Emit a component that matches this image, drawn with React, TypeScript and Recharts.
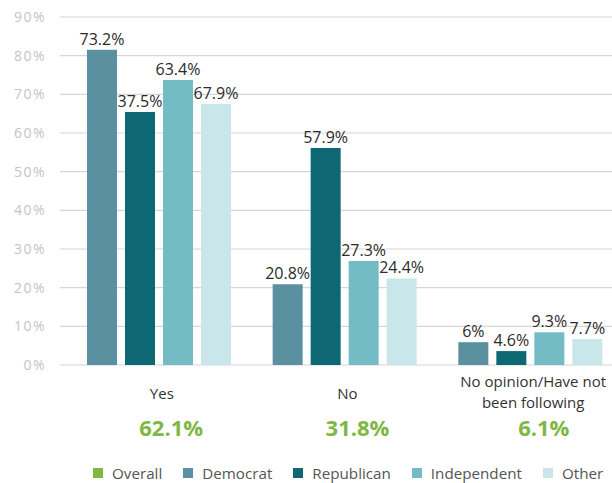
import React from "react";
import { BarChart, Bar, XAxis, YAxis, CartesianGrid, LabelList, Legend } from "recharts";

const categories = ["Yes", "No", "No opinion/Have not\nbeen following"];
const overallLabels = ["62.1%", "31.8%", "6.1%"];

const democratValues = [81.5, 20.9, 5.9];
const republicanValues = [65.4, 56.1, 3.6];
const independentValues = [73.7, 26.9, 8.5];
const otherValues = [67.5, 22.4, 6.7];

// printed value labels
const democratLabels = [73.2, 20.8, 6];
const republicanLabels = [37.5, 57.9, 4.6];
const independentLabels = [63.4, 27.3, 9.3];
const otherLabels = [67.9, 24.4, 7.7];

const yTicks = [0, 10, 20, 30, 40, 50, 60, 70, 80, 90];
const legendNames = ["Overall", "Democrat", "Republican", "Independent", "Other"];

const GREEN = "#7db843";
const COLORS: Record<string, string> = {
  Overall: GREEN,
  Democrat: "#5a90a0",
  Republican: "#0e6873",
  Independent: "#74bcc5",
  Other: "#c9e6ea",
};

const FONT = "'Open Sans', sans-serif";

const data = categories.map((cat, i) => ({
  cat,
  overall: overallLabels[i],
  democrat: democratValues[i],
  republican: republicanValues[i],
  independent: independentValues[i],
  other: otherValues[i],
  democratLabel: democratLabels[i],
  republicanLabel: republicanLabels[i],
  independentLabel: independentLabels[i],
  otherLabel: otherLabels[i],
}));

const series = [
  { key: "democrat", name: "Democrat" },
  { key: "republican", name: "Republican" },
  { key: "independent", name: "Independent" },
  { key: "other", name: "Other" },
];

const CategoryTick = (props: any) => {
  const { x, y, payload } = props;
  const lines = String(payload.value).split("\n");
  const first = lines.length === 1 ? 34 : 22;
  return (
    <text x={x} y={y} textAnchor="middle" fill="#333" fontSize={15} fontFamily={FONT}>
      {lines.map((l, i) => (
        <tspan key={i} x={x} y={y + first + i * 21}>{l}</tspan>
      ))}
    </text>
  );
};

const OverallTick = (props: any) => {
  const { x, y, payload } = props;
  return (
    <text x={x} y={y + 21} textAnchor="middle" fill={GREEN} fontSize={22} fontWeight={700} fontFamily={FONT}>
      {payload.value}
    </text>
  );
};

const renderLegend = () => (
  <div
    style={{
      display: "flex",
      alignItems: "center",
      height: 33,
      paddingLeft: 93,
      paddingTop: 13,
      boxSizing: "border-box",
      fontFamily: FONT,
      fontSize: 15.2,
      lineHeight: "20px",
      color: "#555",
    }}
  >
    {legendNames.map((n) => (
      <div key={n} style={{ display: "flex", alignItems: "center", marginRight: 21 }}>
        <span style={{ display: "inline-block", width: 10, height: 10, background: COLORS[n], marginRight: 9 }} />
        {n}
      </div>
    ))}
  </div>
);

export default function App() {
  return (
    <div style={{ position: "absolute", left: 0, top: 0, width: 612, height: 483, overflow: "hidden" }}>
      <BarChart
        width={640}
        height={483}
        data={data}
        margin={{ top: 17, right: 0, left: 0, bottom: 0 }}
        barSize={30}
        barGap={8}
      >
        <CartesianGrid vertical={false} stroke="#d6d6d6" strokeWidth={1.2} />
        <YAxis
          domain={[0, 90]}
          ticks={yTicks}
          width={60}
          axisLine={false}
          tickLine={false}
          tickMargin={8}
          tickFormatter={(v) => `${v}%`}
          tick={{ fill: "#c4c4c4", fontSize: 14, fontFamily: FONT, letterSpacing: 1.5 }}
        />
        <XAxis xAxisId="bars" dataKey="cat" hide height={0} padding={{ left: 6, right: 17 }} />
        <XAxis
          xAxisId="lbl"
          dataKey="cat"
          height={50}
          axisLine={false}
          tickLine={false}
          tickSize={0}
          tickMargin={0}
          interval={0}
          padding={{ left: 9, right: 14 }}
          tick={<CategoryTick />}
        />
        <XAxis
          xAxisId="ovr"
          dataKey="overall"
          height={35}
          axisLine={false}
          tickLine={false}
          tickSize={0}
          tickMargin={0}
          interval={0}
          padding={{ left: 18, right: 3 }}
          tick={<OverallTick />}
        />
        {series.map((s) => (
          <Bar
            key={s.key}
            xAxisId="bars"
            dataKey={s.key}
            name={s.name}
            fill={COLORS[s.name]}
            isAnimationActive={false}
          >
            <LabelList
              dataKey={`${s.key}Label`}
              position="top"
              offset={5}
              formatter={(v: any) => `${v}%`}
              style={{ fill: "#2b2b2b", fontSize: 16, fontFamily: FONT }}
            />
          </Bar>
        ))}
        <Legend verticalAlign="bottom" content={renderLegend} />
      </BarChart>
    </div>
  );
}
